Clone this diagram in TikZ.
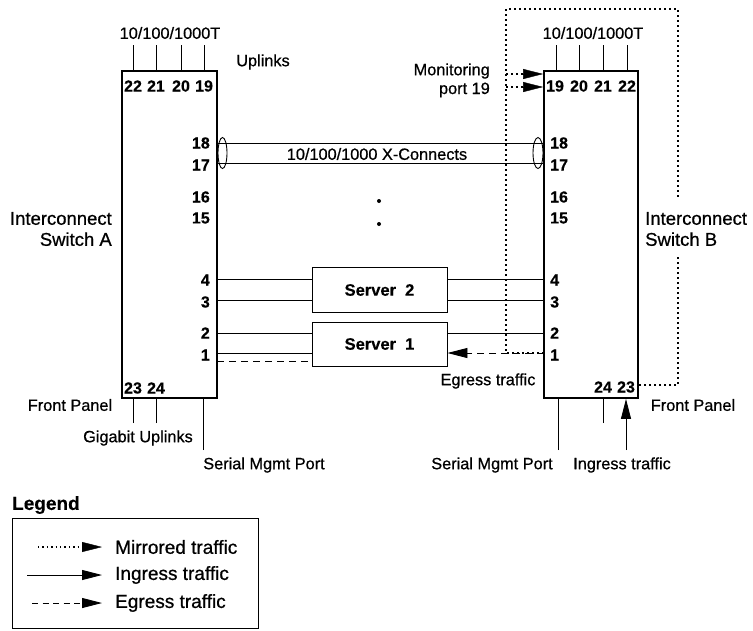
\documentclass[tikz,border=0pt]{standalone}
\usepackage{fontspec}
\setmainfont{Liberation Sans}[FakeBold=0.7]
\newfontfamily\numfont{Liberation Sans}[FakeBold=0.3]
\usetikzlibrary{arrows.meta}
\begin{document}
\begin{tikzpicture}[x=1pt,y=-1pt,
  sw/.style={draw,line width=1.8pt,inner sep=0,minimum width=95pt,minimum height=327pt},
  srv/.style={draw,line width=0.9pt,inner sep=0,minimum width=135pt,minimum height=45pt,font=\fontsize{16.5}{18}\numfont\bfseries},
  num/.style={inner sep=0,font=\fontsize{16}{17}\numfont\bfseries},
  lbl/.style={inner sep=0,font=\fontsize{16.3}{18}\selectfont},
  big/.style={inner sep=0,font=\fontsize{18.5}{21}\selectfont},
  leg/.style={inner sep=0,anchor=west,font=\fontsize{19}{21}\selectfont},
  wire/.style={line width=0.9pt},
  mir/.style={line width=2pt,dash pattern=on 2pt off 3pt},
  egr/.style={line width=0.9pt,dash pattern=on 7pt off 5pt},
  tip/.style={-{Triangle[length=20pt,width=10pt]}}
]
\useasboundingbox (0,0) rectangle (753,630);

% switches
\node[sw] (swA) at (169.5,234.5) {};
\node[sw,minimum width=94pt] (swB) at (591,234.5) {};

% servers
\node[srv] (s2) at (379.5,290) {Server\ \ 2};
\node[srv,minimum height=44pt] (s1) at (379.5,344) {Server\ \ 1};

% top ports A
\foreach \x/\n in {133/22,156/21,181/20,204/19} {
  \coordinate (at\n) at (\x,45);
  \draw[wire] (at\n) -- (at\n |- swA.north);
  \node[num] (na\n) at (\x,86) {\n};
}
\node[lbl] (tA) at (170,33) {10/100/1000T};
\node[lbl] (upl) at (263,62) {Uplinks};

% top ports B
\foreach \x/\n in {556/19,579/20,603/21,627/22} {
  \coordinate (bt\n) at (\x,45);
  \draw[wire] (bt\n) -- (bt\n |- swB.north);
}
\node[num] (nb19) at (555,86) {19};
\node[num] (nb20) at (579,86) {20};
\node[num] (nb21) at (603,86) {21};
\node[num] (nb22) at (627,86) {22};
\node[lbl] (tB) at (593,33) {10/100/1000T};

% side port numbers
\foreach \y/\n in {143/18,165/17,197/16,218/15,280/4,302/3,333/2,355/1} {
  \node[num,anchor=east] (pa\n) at (210,\y) {\n};
  \node[num,anchor=west] (pb\n) at (550,\y) {\n};
}

% cross connects
\coordinate (a18) at (217,143); \coordinate (b18) at (544,143);
\coordinate (a17) at (217,163); \coordinate (b17) at (544,163);
\draw[wire] (a18) -- (b18);
\draw[wire] (a17) -- (b17);
\draw[wire] (222.5,153) ellipse [x radius=4.5pt,y radius=15.5pt];
\draw[wire] (538,153) ellipse [x radius=5pt,y radius=15.5pt];
\node[lbl] (xc) at (377,154) {10/100/1000 X-Connects};
\node[circle,fill,inner sep=0,minimum size=4pt] (d1) at (379,201) {};
\node[circle,fill,inner sep=0,minimum size=4pt] (d2) at (379,224) {};

% server 2 links
\coordinate (a4) at (217,279); \coordinate (a3) at (217,300);
\coordinate (b4) at (544,279); \coordinate (b3) at (544,300);
\draw[wire] (a4) -- (a4 -| s2.west);
\draw[wire] (a3) -- (a3 -| s2.west);
\draw[wire] (b4) -- (b4 -| s2.east);
\draw[wire] (b3) -- (b3 -| s2.east);

% server 1 links
\coordinate (a2) at (217,333); \coordinate (a1) at (217,353); \coordinate (a1e) at (217,361);
\coordinate (b2) at (544,333); \coordinate (b1) at (544,353);
\draw[wire] (a2) -- (a2 -| s1.west);
\draw[wire] (a1) -- (a1 -| s1.west);
\draw[egr] (a1e) -- (a1e -| s1.west);
\draw[wire] (b2) -- (b2 -| s1.east);
\draw[egr,tip] (b1) -- (b1 -| s1.east);

% mirrored traffic
\coordinate (m1) at (506,353);
\coordinate (mtop) at (506,9);
\coordinate (rtop) at (678,9);
\coordinate (rgap1) at (678,197);
\coordinate (rgap2) at (678,257);
\coordinate (b23) at (638,385);
\draw[mir] (b1) -- (m1) -- (mtop) -- (rtop) -- (rgap1);
\draw[mir] (rgap2) -- (rgap2 |- b23) -- (b23);
\coordinate (mA) at (506,74); \coordinate (mB) at (506,87);
\draw[mir] (mA) -- (528,74);
\draw[mir] (mB) -- (528,87);
\draw[tip] (526,74) -- (mA -| swB.west);
\draw[tip] (526,87) -- (mB -| swB.west);
\node[lbl,anchor=east] (mon1) at (490,71) {Monitoring};
\node[lbl,anchor=east] (mon2) at (490,90) {port 19};

% side labels
\node[big,anchor=east,align=right] (labA) at (112,229) {Interconnect\\Switch A};
\node[big,anchor=west,align=left] (labB) at (645,229) {Interconnect\\Switch B};

% bottom A
\foreach \x/\n in {133/23,156/24} {
  \node[num] (nba\n) at (\x,388) {\n};
  \coordinate (ab\n) at (\x,423);
  \draw[wire] (ab\n) -- (ab\n |- swA.south);
}
\coordinate (aser) at (203,450);
\draw[wire] (aser) -- (aser |- swA.south);
\node[lbl] (fpA) at (70,405) {Front Panel};
\node[lbl] (gig) at (138,438) {Gigabit Uplinks};
\node[lbl] (serA) at (264,465) {Serial Mgmt Port};

% bottom B
\node[num] (nbb24) at (603,387) {24};
\node[num] (nbb23) at (626,387) {23};
\coordinate (bser) at (558,450);
\coordinate (bb24) at (603,423);
\coordinate (bin) at (626,450);
\draw[wire] (bser) -- (bser |- swB.south);
\draw[wire] (bb24) -- (bb24 |- swB.south);
\draw[wire,tip] (bin) -- (bin |- swB.south);
\node[lbl] (egB) at (488,381) {Egress traffic};
\node[lbl] (fpB) at (693,405) {Front Panel};
\node[lbl] (serB) at (492,465) {Serial Mgmt Port};
\node[lbl] (ingB) at (622,465) {Ingress traffic};

% legend
\node[inner sep=0,anchor=west,font=\fontsize{19}{21}\numfont\bfseries] (legT) at (12,505) {Legend};
\node[draw,line width=0.9pt,inner sep=0,minimum width=246pt,minimum height=110pt] (legbox) at (135,573) {};
\coordinate (l1a) at (38,547); \coordinate (l1b) at (82,547); \coordinate (l1c) at (102,547);
\coordinate (l2a) at (27,575); \coordinate (l2c) at (102,575);
\coordinate (l3a) at (32,603); \coordinate (l3c) at (102,603);
\draw[line width=1.4pt,dash pattern=on 1.4pt off 3pt] (l1a) -- (l1b);
\draw[tip] (84,547) -- (l1c);
\draw[wire,tip] (l2a) -- (l2c);
\draw[egr,dash pattern=on 6pt off 4.5pt,tip] (l3a) -- (l3c);
\node[leg] (lt1) at (115,547) {Mirrored traffic};
\node[leg] (lt2) at (115,575) {Ingress traffic};
\node[leg] (lt3) at (115,603) {Egress traffic};
\end{tikzpicture}
\end{document}
